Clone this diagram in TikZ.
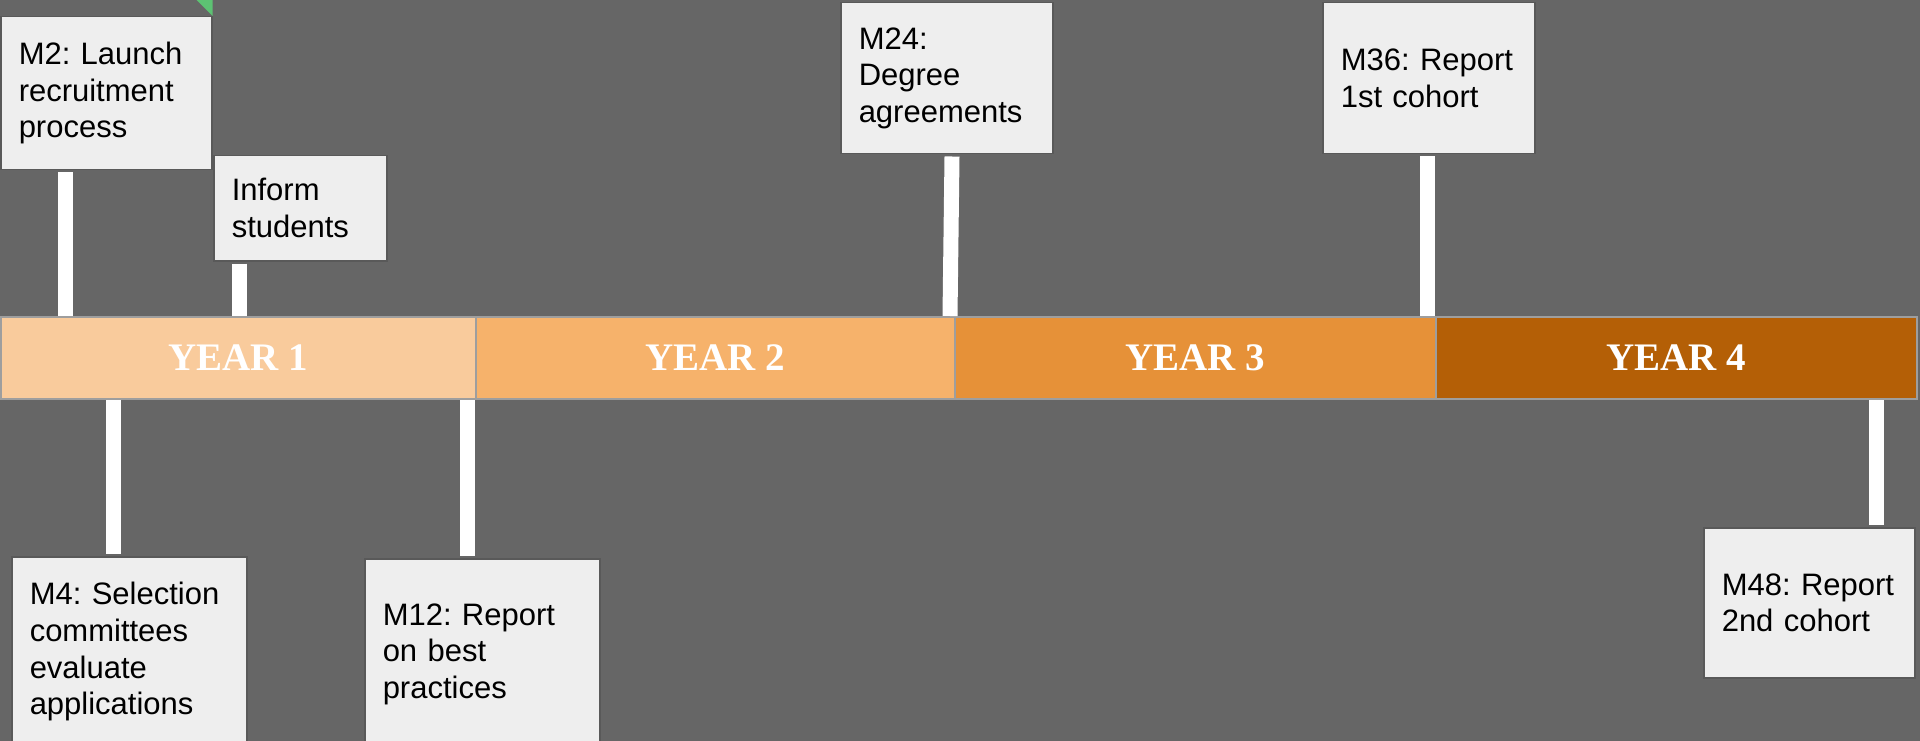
\documentclass[tikz,border=0pt]{standalone}
\usepackage{fontspec}
\setmainfont{Liberation Sans}
\newfontfamily\yearfont{Liberation Serif}
\usetikzlibrary{calc}
\frenchspacing
\hyphenpenalty=10000
\exhyphenpenalty=10000
\definecolor{bg}{HTML}{666666}
\definecolor{boxfill}{HTML}{EEEEEE}
\definecolor{boxline}{HTML}{595959}
\definecolor{barline}{HTML}{9E9E9E}
\definecolor{yA}{HTML}{F9CB9C}
\definecolor{yB}{HTML}{F6B26B}
\definecolor{yC}{HTML}{E69138}
\definecolor{yD}{HTML}{B45F06}
\definecolor{flag}{HTML}{5DC273}
\begin{document}
\begin{tikzpicture}[x=1pt,y=-1pt,
  mbox/.style 2 args={draw=boxline, fill=boxfill, line width=1.5pt, anchor=north west,
    align=left, text width=#1, minimum height=#2, inner xsep=18pt, inner ysep=0pt,
    font=\fontsize{31}{36.7}\selectfont\frenchspacing, text=black},
  yearseg/.style 2 args={draw=barline, line width=2pt, fill=#1, minimum width=#2,
    minimum height=82pt, anchor=north west, inner sep=0pt, text=white,
    font=\yearfont\bfseries\fontsize{39}{40}\selectfont},
  stem/.style={draw=white, line width=15pt}]
\useasboundingbox (0,0) rectangle (1920,741);
\fill[bg] (0,0) rectangle (1920,741);
\clip (0,0) rectangle (1920,741);

% year bar
\node[yearseg={yA}{475pt}] (y1) at (0,316) {YEAR 1};
\node[yearseg={yB}{479pt}] (y2) at (475,316) {YEAR 2};
\node[yearseg={yC}{481pt}] (y3) at (954,316) {YEAR 3};
\node[yearseg={yD}{481pt}] (y4) at (1435,316) {YEAR 4};

% milestone boxes
\node[mbox={175pt}{153pt}] (m2) at (0,16) {M2: Launch\\recruitment\\process};
\node[mbox={137pt}{105pt}] (inform) at (213,155) {Inform\\students};
\node[mbox={176pt}{151pt}] (m24) at (840,2) {M24:\\Degree\\agreements};
\node[mbox={176pt}{151pt}] (m36) at (1322,2) {M36: Report\\1st cohort};
\node[mbox={199pt}{190pt}] (m4) at (11,556) {M4: Selection\\committees\\evaluate\\applications};
\node[mbox={199pt}{191pt}] (m12) at (364,558) {M12: Report\\on best\\practices};
\node[mbox={175pt}{150pt}] (m48) at (1703,527) {M48: Report\\2nd cohort};

% stems
\draw[stem] ($(m2.south west)+(65.5,2)$) -- ($(y1.north west)+(65.5,0)$);
\draw[stem] ($(inform.south west)+(26.5,2)$) -- ($(y1.north west)+(239.5,0)$);
\draw[stem] ($(m24.south west)+(112,2)$) -- ($(y2.north west)+(475,0)$);
\draw[stem] ($(m36.south west)+(105.5,2)$) -- ($(y3.north west)+(473.5,0)$);
\draw[stem] ($(y1.south west)+(113.5,0)$) -- ($(m4.north west)+(102.5,-2)$);
\draw[stem] ($(y1.south west)+(467,0)$) -- ($(m12.north west)+(103,-2)$);
\draw[stem] ($(y4.south west)+(441.5,0)$) -- ($(m48.north west)+(173.5,-2)$);

% green corner flag
\fill[flag] (m2.north east) -- ++(0,-16) -- ++(-16,0) -- cycle;
\end{tikzpicture}
\end{document}
